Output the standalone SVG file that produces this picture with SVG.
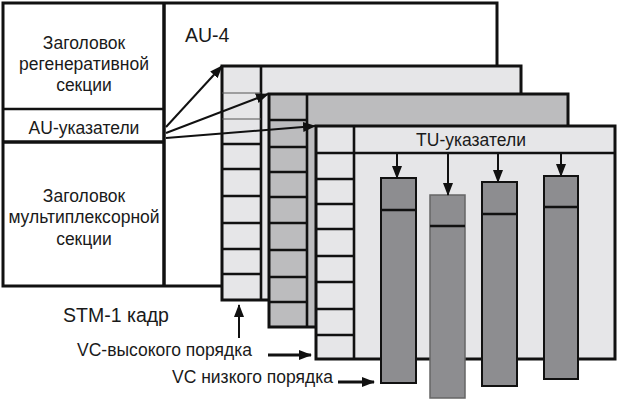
<svg xmlns="http://www.w3.org/2000/svg" width="620" height="401" viewBox="0 0 620 401">
<defs>
<style>
text{font-family:"Liberation Sans",Arial,sans-serif;fill:#1a1a1a;}
.t{font-size:17.5px;}
.c{text-anchor:middle;}
.bd{stroke:#111;stroke-width:3;}
.ln{stroke:#111;stroke-width:2.6;fill:none;}
.thin{stroke:#555;stroke-width:1.2;fill:none;}
.light{fill:#e6e6e8;}
.mid{fill:#bcbcbe;}
.dark{fill:#8d8d90;}
.arr{stroke:#111;stroke-width:2;fill:none;marker-end:url(#ah);}
.arr3{stroke:#111;stroke-width:3;fill:none;marker-end:url(#ah);}
</style>
<marker id="ah" viewBox="0 0 13 10" refX="12" refY="5" markerWidth="13" markerHeight="10" markerUnits="userSpaceOnUse" orient="auto">
<path d="M0,0 L13,5 L0,10 z" fill="#111"/>
</marker>
</defs>
<rect width="620" height="401" fill="#fff"/>

<g id="stm1">
<rect x="3" y="3" width="494" height="283" fill="#fff" class="bd"/>
<line x1="164" y1="3" x2="164" y2="286" class="ln" style="stroke-width:3.5"/>
<line x1="3" y1="109" x2="164" y2="109" class="ln"/>
<line x1="3" y1="142" x2="164" y2="142" class="ln" style="stroke-width:3.5"/>
<text class="t c" x="84" y="49">Заголовок</text>
<text class="t c" x="84" y="70">регенеративной</text>
<text class="t c" x="84" y="91">секции</text>
<text class="t c" x="84" y="134">AU-указатели</text>
<text class="t c" x="84" y="202">Заголовок</text>
<text class="t c" x="84" y="223">мультиплексорной</text>
<text class="t c" x="84" y="245">секции</text>
<text x="185" y="42" style="font-size:19.5px">AU-4</text>
</g>

<g id="frame-au4">
<rect x="222" y="66" width="299" height="234" class="light bd"/>
<line x1="261" y1="66" x2="261" y2="300" class="ln"/>
<line x1="222" y1="93" x2="261" y2="93" class="thin"/>
<line x1="222" y1="119" x2="261" y2="119" class="thin"/>
<line x1="222" y1="144" x2="261" y2="144" class="ln"/>
<line x1="222" y1="169" x2="261" y2="169" class="ln"/>
<line x1="222" y1="196" x2="261" y2="196" class="ln"/>
<line x1="222" y1="223" x2="261" y2="223" class="ln"/>
<line x1="222" y1="249" x2="261" y2="249" class="ln"/>
<line x1="222" y1="274" x2="261" y2="274" class="ln"/>
</g>

<g id="frame-vc-high">
<rect x="269" y="94" width="299" height="233" class="mid bd"/>
<line x1="307" y1="94" x2="307" y2="327" class="ln"/>
<line x1="269" y1="120" x2="307" y2="120" class="ln"/>
<line x1="269" y1="147" x2="307" y2="147" class="ln"/>
<line x1="269" y1="172" x2="307" y2="172" class="ln"/>
<line x1="269" y1="197" x2="307" y2="197" class="ln"/>
<line x1="269" y1="223" x2="307" y2="223" class="ln"/>
<line x1="269" y1="250" x2="307" y2="250" class="ln"/>
<line x1="269" y1="277" x2="307" y2="277" class="ln"/>
<line x1="269" y1="302" x2="307" y2="302" class="ln"/>
</g>

<g id="frame-tu">
<rect x="316" y="126" width="299" height="233" class="light bd"/>
<line x1="354" y1="126" x2="354" y2="359" class="ln"/>
<line x1="316" y1="153" x2="615" y2="153" class="ln"/>
<line x1="316" y1="179" x2="354" y2="179" class="ln"/>
<line x1="316" y1="204" x2="354" y2="204" class="ln"/>
<line x1="316" y1="229" x2="354" y2="229" class="ln"/>
<line x1="316" y1="256" x2="354" y2="256" class="ln"/>
<line x1="316" y1="282" x2="354" y2="282" class="ln"/>
<line x1="316" y1="309" x2="354" y2="309" class="ln"/>
<line x1="316" y1="335" x2="354" y2="335" class="ln"/>
<text class="t c" x="471" y="146">TU-указатели</text>
</g>

<g id="vc-low-1">
<rect x="381" y="178" width="35" height="205" class="dark" stroke="#111" stroke-width="2"/>
<line x1="381" y1="210" x2="416" y2="210" class="ln"/>
</g>
<g id="vc-low-2">
<rect x="430" y="195" width="35" height="203" class="dark" stroke="#666" stroke-width="1.5"/>
<line x1="430" y1="226" x2="465" y2="226" class="ln"/>
</g>
<g id="vc-low-3">
<rect x="482" y="182" width="35" height="204" class="dark" stroke="#111" stroke-width="2"/>
<line x1="482" y1="214" x2="517" y2="214" class="ln"/>
</g>
<g id="vc-low-4">
<rect x="544" y="176" width="34" height="203" class="dark" stroke="#111" stroke-width="2"/>
<line x1="544" y1="207" x2="578" y2="207" class="ln"/>
</g>

<g id="labels">
<text x="63" y="322" style="font-size:19.5px">STM-1 кадр</text>
<text class="t" x="77" y="356">VC-высокого порядка</text>
<text class="t" x="172" y="383">VC низкого порядка</text>
</g>

<g id="connectors">
<line x1="166" y1="127" x2="222" y2="66" class="arr"/>
<line x1="166" y1="133" x2="268" y2="94" class="arr"/>
<line x1="166" y1="138" x2="315" y2="126" class="arr"/>
<line x1="397" y1="154" x2="397" y2="178" class="arr"/>
<line x1="448" y1="154" x2="448" y2="195" class="arr"/>
<line x1="498" y1="154" x2="498" y2="182" class="arr"/>
<line x1="561" y1="154" x2="561" y2="176" class="arr"/>
<line x1="239" y1="338" x2="239" y2="305" class="arr"/>
<line x1="268" y1="355" x2="311" y2="355" class="arr3"/>
<line x1="338" y1="382" x2="374" y2="382" class="arr3"/>
</g>
</svg>
